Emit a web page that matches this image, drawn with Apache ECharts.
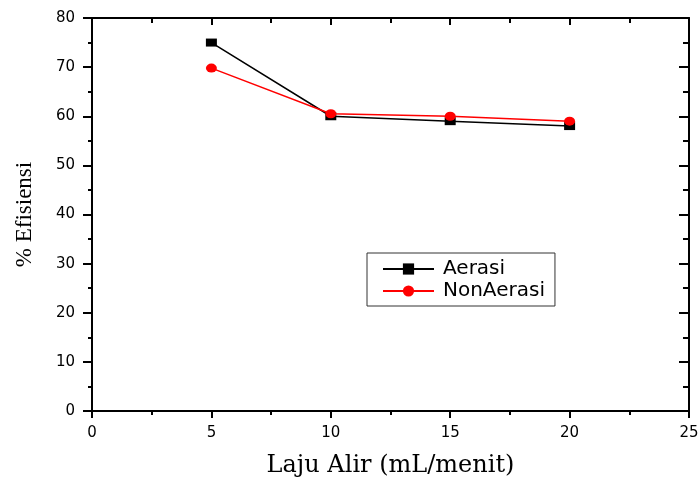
<!DOCTYPE html>
<html>
<head>
<meta charset="utf-8">
<script src="https://cdn.jsdelivr.net/npm/echarts@6/dist/echarts.min.js"></script>
<style>html,body{margin:0;padding:0;background:#fff}#c{width:699px;height:477px}</style>
</head>
<body>
<div id="c"></div>
<script>
const xValues = [5, 10, 15, 20];
const aerasi = [75, 60, 59, 58];
const nonAerasi = [69.8, 60.5, 60, 59];
const seriesNames = ['Aerasi', 'NonAerasi'];
const xTitle = 'Laju Alir (mL/menit)';
const yTitle = '% Efisiensi';

const chart = echarts.init(document.getElementById('c'));
const axisLineStyle = {color: '#000', width: 2};
const tickStyle = {color: '#000', width: 2};
const labelFont = {fontFamily: 'DejaVu Sans', fontSize: 15, color: '#000'};
chart.setOption({
  animation: false,
  grid: {left: 92, top: 18, right: 10, bottom: 66, containLabel: false, outerBoundsMode: 'none'},
  legend: {
    data: seriesNames,
    orient: 'vertical',
    left: 367, top: 253,
    borderColor: '#333', borderWidth: 1, borderRadius: 0,
    padding: [6, 10, 5, 15],
    itemGap: 2,
    itemWidth: 51, itemHeight: 14,
    textStyle: {fontFamily: 'DejaVu Sans', fontSize: 20, color: '#000', padding: [0, 0, 0, 4]}
  },
  xAxis: [{
    type: 'value', min: 0, max: 25, interval: 5, position: 'bottom',
    axisLine: {show: true, onZero: false, lineStyle: axisLineStyle},
    axisTick: {show: true, inside: false, length: 7, lineStyle: tickStyle},
    minorTick: {show: true, splitNumber: 2, length: 4, lineStyle: tickStyle},
    splitLine: {show: false},
    axisLabel: Object.assign({margin: 15}, labelFont),
    name: xTitle, nameLocation: 'middle', nameGap: 43,
    nameTextStyle: {fontFamily: 'DejaVu Serif', fontSize: 24, color: '#000'}
  }, {
    type: 'value', min: 0, max: 25, interval: 5, position: 'top',
    axisLine: {show: true, onZero: false, lineStyle: axisLineStyle},
    axisTick: {show: true, inside: true, length: 7, lineStyle: tickStyle},
    minorTick: {show: true, splitNumber: 2, length: 5, lineStyle: tickStyle},
    splitLine: {show: false},
    axisLabel: {show: false}
  }],
  yAxis: [{
    type: 'value', min: 0, max: 80, interval: 10, position: 'left',
    axisLine: {show: true, onZero: false, lineStyle: axisLineStyle},
    axisTick: {show: true, inside: false, length: 9, lineStyle: tickStyle},
    minorTick: {show: true, splitNumber: 2, length: 4, lineStyle: tickStyle},
    splitLine: {show: false},
    axisLabel: Object.assign({margin: 17}, labelFont),
    name: yTitle, nameLocation: 'middle', nameGap: 56, nameRotate: 90,
    nameTextStyle: {fontFamily: 'Liberation Serif', fontSize: 23, color: '#000'}
  }, {
    type: 'value', min: 0, max: 80, interval: 10, position: 'right',
    axisLine: {show: true, onZero: false, lineStyle: axisLineStyle},
    axisTick: {show: true, inside: true, length: 10, lineStyle: tickStyle},
    minorTick: {show: true, splitNumber: 2, length: 6, lineStyle: tickStyle},
    splitLine: {show: false},
    axisLabel: {show: false}
  }],
  series: [{
    name: seriesNames[0], type: 'line',
    data: xValues.map((x, i) => [x, aerasi[i]]),
    symbol: 'rect', symbolSize: [11, 8],
    itemStyle: {color: '#000'},
    lineStyle: {color: '#000', width: 1.5},
    z: 2
  }, {
    name: seriesNames[1], type: 'line',
    data: xValues.map((x, i) => [x, nonAerasi[i]]),
    symbol: 'circle', symbolSize: [11, 9],
    itemStyle: {color: '#ff0000'},
    lineStyle: {color: '#ff0000', width: 1.5},
    z: 3
  }]
});
</script>
</body>
</html>
